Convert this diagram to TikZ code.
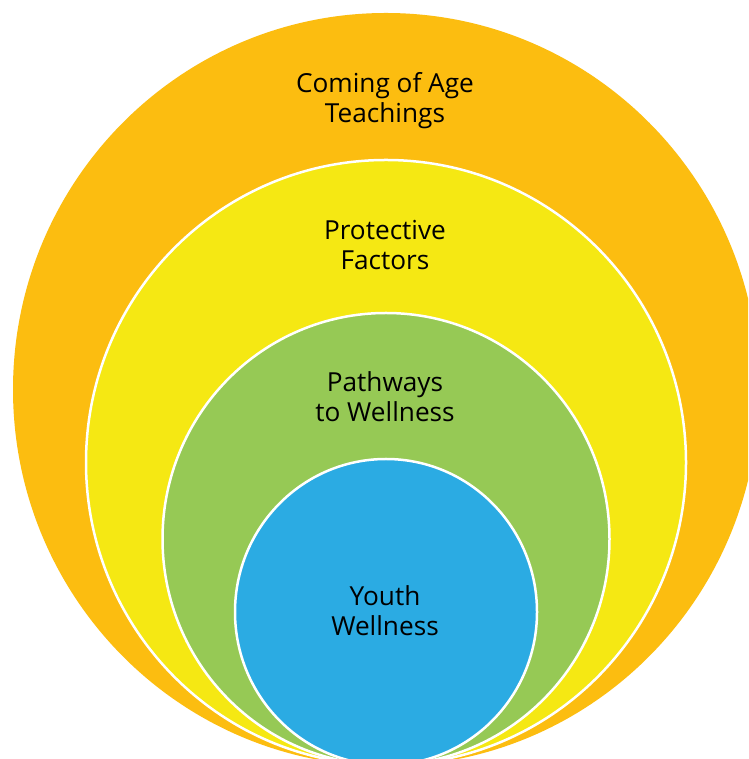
\documentclass[tikz,border=0pt]{standalone}
\usepackage{fontspec}
\usetikzlibrary{shapes.geometric}
\setmainfont{Open Sans}
\definecolor{corange}{HTML}{FCBD10}
\definecolor{cyellow}{HTML}{F5E813}
\definecolor{cgreen}{HTML}{96C955}
\definecolor{cblue}{HTML}{2BABE3}
\begin{document}
\begin{tikzpicture}[x=1pt,y=1pt,
  ring/.style={ellipse,inner sep=0pt,outer sep=0pt,line width=2.5pt,draw=white},
  lbl/.style={align=center,font=\fontsize{26.2}{30}\selectfont,text=black,inner sep=0pt}]
\useasboundingbox (0,0) rectangle (748,759);
\clip (0,0) rectangle (748,759);
\fill[white] (0,0) rectangle (748,759);
\node[ellipse,inner sep=0pt,outer sep=0pt,fill=corange,minimum width=746pt,minimum height=753pt] (outer) at (386,369.5) {};
\node[ring,fill=cyellow,minimum width=600pt,minimum height=605pt] (yellow) at (386,296.5) {};
\node[ring,fill=cgreen,minimum width=447pt,minimum height=452pt] (green) at (386,220) {};
\node[ring,fill=cblue,minimum width=302pt,minimum height=306pt] (blue) at (386,147) {};
\node[lbl] (t1) at (385,658) {Coming of Age\\Teachings};
\node[lbl] (t2) at (385,514) {Protective\\Factors};
\node[lbl] (t3) at (385,362.5) {Pathways\\to Wellness};
\node[lbl] (t4) at (385,148) {Youth\\Wellness};
\end{tikzpicture}
\end{document}
